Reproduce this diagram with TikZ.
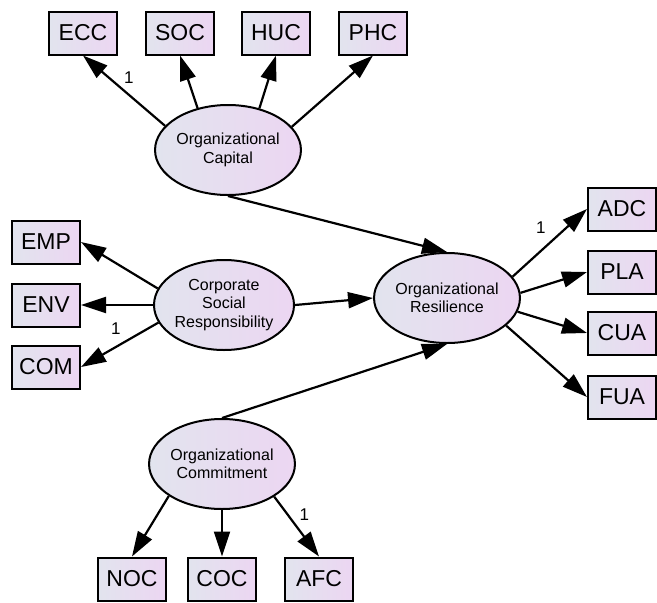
\documentclass[tikz,border=0pt]{standalone}
\usepackage{fontspec}
\setmainfont{Liberation Sans}
\usetikzlibrary{arrows.meta,shapes.geometric}

\definecolor{boxleft}{RGB}{226,228,238}
\definecolor{boxright}{RGB}{236,214,242}

\tikzset{
  obs/.style={draw, line width=2pt, left color=boxleft, right color=boxright,
    minimum width=68pt, minimum height=43pt, inner sep=0pt,
    font=\fontsize{23}{26}\selectfont},
  lat/.style={ellipse, draw, line width=2pt, left color=boxleft, right color=boxright,
    minimum width=140pt, minimum height=90pt, inner sep=0pt, align=center,
    font=\fontsize{16}{18.5}\selectfont},
  load/.style={font=\fontsize{17}{20}\selectfont, inner sep=3pt}
}

\begin{document}
\begin{tikzpicture}[x=1pt,y=-1pt,>={Triangle[length=25pt,width=16pt]},line width=2.2pt]
  \useasboundingbox (0,0) rectangle (657,603);

  % latent variables
  \node[lat] (oc)   at (228,150) {Organizational\\Capital};
  \node[lat] (csr)  at (224,305) {Corporate\\Social\\Responsibility};
  \node[lat] (ores) at (447,298) {Organizational\\Resilience};
  \node[lat] (ocm)  at (222,464) {Organizational\\Commitment};

  % indicators
  \node[obs] (ecc) at (83,33)  {ECC};
  \node[obs] (soc) at (180,33) {SOC};
  \node[obs] (huc) at (276,33) {HUC};
  \node[obs] (phc) at (373,33) {PHC};

  \node[obs] (emp) at (46,242) {EMP};
  \node[obs] (env) at (46,305) {ENV};
  \node[obs] (com) at (46,367) {COM};

  \node[obs] (adc) at (622,209) {ADC};
  \node[obs] (pla) at (622,272) {PLA};
  \node[obs] (cua) at (622,333) {CUA};
  \node[obs] (fua) at (622,397) {FUA};

  \node[obs] (noc) at (132,579) {NOC};
  \node[obs] (coc) at (222,579) {COC};
  \node[obs] (afc) at (319,579) {AFC};

  \path[->]
    (oc.159) edge node[load,pos=.55,anchor=south west] {1} (ecc.south)
    (oc.126) edge (soc.south)
    (oc.53)  edge (huc.south)
    (oc.20)  edge (phc.south)
    (csr.166) edge (emp.east)
    (csr.west) edge (env.east)
    (csr.195) edge node[load,pos=.55,above=8pt] {1} (com.east)
    (ores.18)  edge node[load,pos=.5,anchor=south east,yshift=5pt] {1} (adc.west)
    (ores.4)   edge (pla.west)
    (ores.-11) edge (cua.west)
    (ores.-25) edge (fua.west)
    (ocm.211) edge (noc.north)
    (ocm.south) edge (coc.north)
    (ocm.328) edge node[load,pos=.3,right=8pt] {1} (afc.north)
    (oc.south) edge (ores.north)
    (csr.east) edge (ores.west)
    (ocm.north) edge (ores.south);
\end{tikzpicture}
\end{document}
